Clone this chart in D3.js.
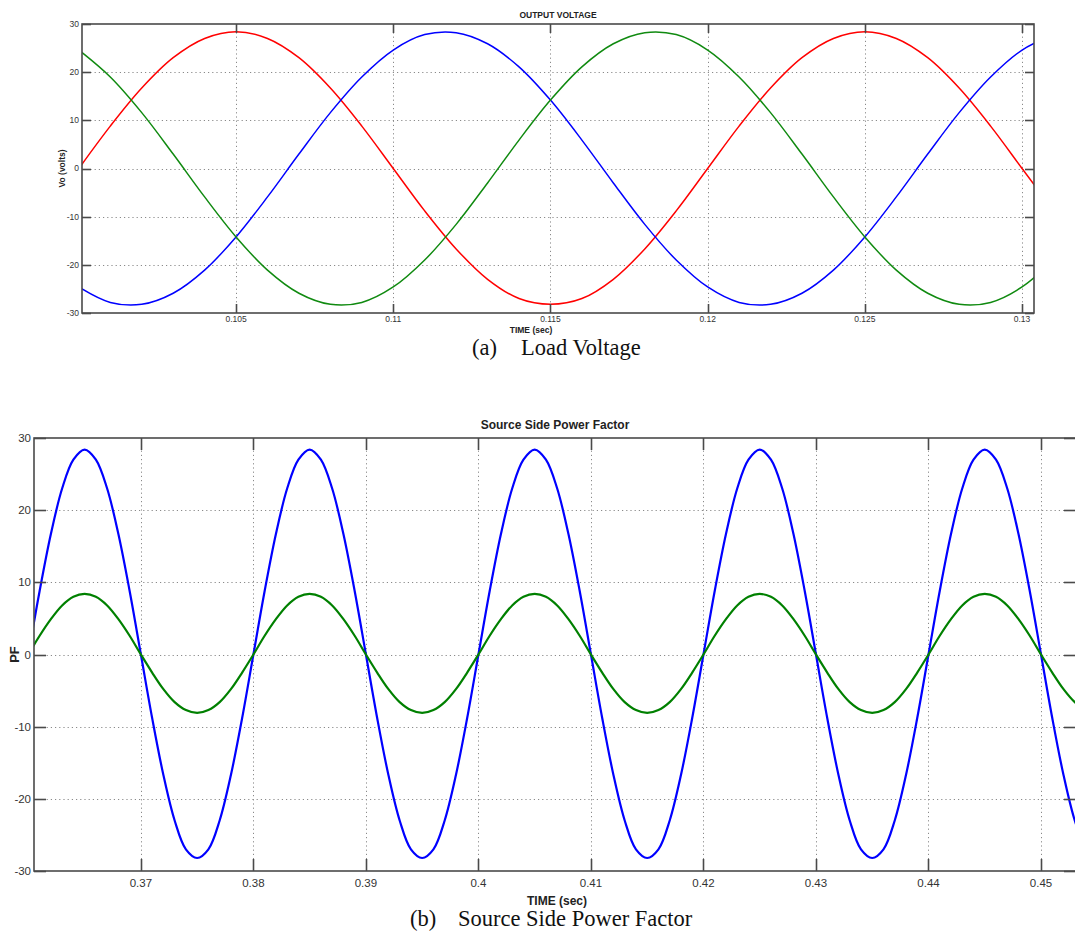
<!DOCTYPE html>
<html>
<head>
<meta charset="utf-8">
<script src="https://cdn.jsdelivr.net/npm/d3@7"></script>
<style>
  html, body { margin: 0; padding: 0; background: #fff; }
  svg { display: block; }
</style>
</head>
<body>
<svg id="chart" width="1075" height="948"></svg>
<script>
// ---------- DATA ----------
const timeA = [0.100,0.101,0.102,0.103,0.104,0.105,0.106,0.107,0.108,0.109,
               0.110,0.111,0.112,0.113,0.114,0.115,0.116,0.117,0.118,0.119,
               0.120,0.121,0.122,0.123,0.124,0.125,0.126,0.127,0.128,0.129,
               0.130,0.131];
const redA = [0, 8.8, 16.7, 23.0, 27.0, 28.4, 27.0, 23.0, 16.7, 8.8,
              0, -8.8, -16.7, -23.0, -27.0, -28.2, -27.0, -23.0, -16.7, -8.8,
              0, 8.8, 16.7, 23.0, 27.0, 28.4, 27.0, 23.0, 16.7, 8.8, 0, -8.8];
const blueA = [-24.6, -27.8, -28.2, -25.9, -21.1, -14.2, -5.9, 3.0, 11.6, 19.0,
               24.6, 27.8, 28.2, 25.9, 21.1, 14.2, 5.9, -3.0, -11.6, -19.0,
               -24.6, -27.8, -28.2, -25.9, -21.1, -14.2, -5.9, 3.0, 11.6, 19.0, 24.6, 27.8];
const greenA = [24.6, 19.0, 11.6, 3.0, -5.9, -14.2, -21.1, -25.9, -28.2, -27.8,
                -24.6, -19.0, -11.6, -3.0, 5.9, 14.2, 21.1, 25.9, 28.2, 27.8,
                24.6, 19.0, 11.6, 3.0, -5.9, -14.2, -21.1, -25.9, -28.2, -27.8, -24.6, -19.0];
const xTicksA = [0.105, 0.11, 0.115, 0.12, 0.125, 0.13];
const xTickLabelsA = ["0.105", "0.11", "0.115", "0.12", "0.125", "0.13"];
const yTicks = [-30, -20, -10, 0, 10, 20, 30];

const timeB = [0.360,0.361,0.362,0.363,0.364,0.365,0.366,0.367,0.368,0.369,
               0.370,0.371,0.372,0.373,0.374,0.375,0.376,0.377,0.378,0.379,
               0.380,0.381,0.382,0.383,0.384,0.385,0.386,0.387,0.388,0.389,
               0.390,0.391,0.392,0.393,0.394,0.395,0.396,0.397,0.398,0.399,
               0.400,0.401,0.402,0.403,0.404,0.405,0.406,0.407,0.408,0.409,
               0.410,0.411,0.412,0.413,0.414,0.415,0.416,0.417,0.418,0.419,
               0.420,0.421,0.422,0.423,0.424,0.425,0.426,0.427,0.428,0.429,
               0.430,0.431,0.432,0.433,0.434,0.435,0.436,0.437,0.438,0.439,
               0.440,0.441,0.442,0.443,0.444,0.445,0.446,0.447,0.448,0.449,
               0.450,0.451,0.452,0.453,0.454];
const blueB = [0, 8.8, 16.7, 23.0, 27.0, 28.4, 27.0, 23.0, 16.7, 8.8,
               0, -8.8, -16.7, -23.0, -27.0, -28.2, -27.0, -23.0, -16.7, -8.8,
               0, 8.8, 16.7, 23.0, 27.0, 28.4, 27.0, 23.0, 16.7, 8.8,
               0, -8.8, -16.7, -23.0, -27.0, -28.2, -27.0, -23.0, -16.7, -8.8,
               0, 8.8, 16.7, 23.0, 27.0, 28.4, 27.0, 23.0, 16.7, 8.8,
               0, -8.8, -16.7, -23.0, -27.0, -28.2, -27.0, -23.0, -16.7, -8.8,
               0, 8.8, 16.7, 23.0, 27.0, 28.4, 27.0, 23.0, 16.7, 8.8,
               0, -8.8, -16.7, -23.0, -27.0, -28.2, -27.0, -23.0, -16.7, -8.8,
               0, 8.8, 16.7, 23.0, 27.0, 28.4, 27.0, 23.0, 16.7, 8.8,
               0, -8.8, -16.7, -23.0, -27.0];
const greenB = [0, 2.6, 4.9, 6.8, 8.0, 8.4, 8.0, 6.8, 4.9, 2.6,
                0, -2.5, -4.8, -6.6, -7.7, -8.1, -7.7, -6.6, -4.8, -2.5,
                0, 2.6, 4.9, 6.8, 8.0, 8.4, 8.0, 6.8, 4.9, 2.6,
                0, -2.5, -4.8, -6.6, -7.7, -8.1, -7.7, -6.6, -4.8, -2.5,
                0, 2.6, 4.9, 6.8, 8.0, 8.4, 8.0, 6.8, 4.9, 2.6,
                0, -2.5, -4.8, -6.6, -7.7, -8.1, -7.7, -6.6, -4.8, -2.5,
                0, 2.6, 4.9, 6.8, 8.0, 8.4, 8.0, 6.8, 4.9, 2.6,
                0, -2.5, -4.8, -6.6, -7.7, -8.1, -7.7, -6.6, -4.8, -2.5,
                0, 2.6, 4.9, 6.8, 8.0, 8.4, 8.0, 6.8, 4.9, 2.6,
                0, -2.5, -4.8, -6.6, -7.7];
const xTicksB = [0.37, 0.38, 0.39, 0.40, 0.41, 0.42, 0.43, 0.44, 0.45];
const xTickLabelsB = ["0.37", "0.38", "0.39", "0.4", "0.41", "0.42", "0.43", "0.44", "0.45"];

// ---------- DRAW ----------
const svg = d3.select("#chart");

function panel(cfg) {
  const g = svg.append("g");
  const x = d3.scaleLinear().domain(cfg.xDomain).range([cfg.left, cfg.right]);
  const y = d3.scaleLinear().domain([-30, 30]).range([cfg.bottom, cfg.top]);

  const clipId = "clip" + cfg.id;
  svg.append("clipPath").attr("id", clipId)
    .append("rect").attr("x", cfg.left).attr("y", cfg.top)
    .attr("width", cfg.right - cfg.left).attr("height", cfg.bottom - cfg.top);

  // grid
  const grid = g.append("g").attr("stroke", "#8a8a8a").attr("stroke-width", 1)
    .attr("stroke-dasharray", "1.2,3");
  grid.selectAll(".vg").data(cfg.xTicks).enter().append("line")
    .attr("x1", d => Math.round(x(d)) + 0.5).attr("x2", d => Math.round(x(d)) + 0.5)
    .attr("y1", cfg.top).attr("y2", cfg.bottom);
  grid.selectAll(".hg").data(yTicks.filter(v => v > -30 && v < 30)).enter().append("line")
    .attr("y1", d => Math.round(y(d)) + 0.5).attr("y2", d => Math.round(y(d)) + 0.5)
    .attr("x1", cfg.left).attr("x2", cfg.right);

  // series
  const series = g.append("g").attr("clip-path", `url(#${clipId})`);
  cfg.series.forEach(s => {
    const line = d3.line().x((d, i) => x(s.t[i])).y(d => y(d)).curve(d3.curveCatmullRom.alpha(0.5));
    series.append("path").datum(s.v).attr("d", line)
      .attr("fill", "none").attr("stroke", s.color).attr("stroke-width", cfg.lw)
      .attr("stroke-linejoin", "round");
  });

  // frame
  const axCol = "#4a4a4a";
  g.append("rect").attr("x", cfg.left).attr("y", cfg.top)
    .attr("width", cfg.right - cfg.left).attr("height", cfg.bottom - cfg.top)
    .attr("fill", "none").attr("stroke", axCol).attr("stroke-width", 1.6);

  // ticks (inward, all sides)
  const tk = g.append("g").attr("stroke", axCol).attr("stroke-width", 1.6);
  cfg.xTicks.forEach(v => {
    const xx = Math.round(x(v)) + 0.5;
    tk.append("line").attr("x1", xx).attr("x2", xx).attr("y1", cfg.bottom).attr("y2", cfg.bottom - cfg.tl);
    tk.append("line").attr("x1", xx).attr("x2", xx).attr("y1", cfg.top).attr("y2", cfg.top + cfg.tl);
  });
  yTicks.forEach(v => {
    const yy = Math.round(y(v)) + 0.5;
    tk.append("line").attr("y1", yy).attr("y2", yy).attr("x1", cfg.left).attr("x2", cfg.left + cfg.tl);
    tk.append("line").attr("y1", yy).attr("y2", yy).attr("x1", cfg.right).attr("x2", cfg.right - cfg.tl);
  });

  // tick labels
  const lab = g.append("g").attr("font-family", cfg.font).attr("font-size", cfg.fs).attr("fill", "#333");
  lab.selectAll(".xl").data(cfg.xTicks).enter().append("text")
    .attr("x", d => x(d)).attr("y", cfg.bottom + cfg.xlOff)
    .attr("text-anchor", "middle").text((d, i) => cfg.xLabels[i]);
  lab.selectAll(".yl").data(yTicks).enter().append("text")
    .attr("x", cfg.left - 3).attr("y", d => y(d) + cfg.fs * 0.35)
    .attr("text-anchor", "end").text(d => d);

  // titles
  g.append("text").attr("x", (cfg.left + cfg.right) / 2).attr("y", cfg.titleY)
    .attr("text-anchor", "middle").attr("font-family", cfg.font).attr("font-weight", "bold")
    .attr("font-size", cfg.titleFs).attr("fill", "#222").text(cfg.title);
  g.append("text").attr("x", cfg.xTitleX).attr("y", cfg.xTitleY)
    .attr("text-anchor", "middle").attr("font-family", cfg.font).attr("font-weight", "bold")
    .attr("font-size", cfg.axFs).attr("fill", "#222").text("TIME (sec)");
  g.append("text").attr("transform", `translate(${cfg.yTitleX},${(cfg.top + cfg.bottom) / 2}) rotate(-90)`)
    .attr("text-anchor", "middle").attr("font-family", cfg.font).attr("font-weight", "bold")
    .attr("font-size", cfg.yTitleFs).attr("fill", "#222").text(cfg.yTitle);
}

panel({
  id: "A", left: 82, right: 1034, top: 24, bottom: 313,
  xDomain: [0.1001, 0.13038], xTicks: xTicksA, xLabels: xTickLabelsA,
  series: [
    { t: timeA, v: redA, color: "#ff0000" },
    { t: timeA, v: blueA, color: "#0000ff" },
    { t: timeA, v: greenA, color: "#108a10" }
  ],
  lw: 1.5, tl: 9, font: "'Liberation Sans', Arial, sans-serif", fs: 8.5, xlOff: 9,
  title: "OUTPUT VOLTAGE", titleY: 18, titleFs: 8.5,
  xTitleX: 531, xTitleY: 332.5, axFs: 8.5,
  yTitle: "Vo (volts)", yTitleX: 65, yTitleFs: 8.5
});

panel({
  id: "B", left: 34, right: 1076, top: 438, bottom: 871,
  xDomain: [0.3605, 0.45311], xTicks: xTicksB, xLabels: xTickLabelsB,
  series: [
    { t: timeB, v: blueB, color: "#0000ff" },
    { t: timeB, v: greenB, color: "#008000" }
  ],
  lw: 2.2, tl: 12, font: "'Liberation Sans Narrow', 'Arial Narrow', 'Liberation Sans', sans-serif", fs: 11.5, xlOff: 16,
  title: "Source Side Power Factor", titleY: 429, titleFs: 12,
  xTitleX: 557, xTitleY: 905, axFs: 12,
  yTitle: "PF", yTitleX: 19, yTitleFs: 13
});

// captions
const cap = svg.append("g").attr("font-family", "'Liberation Serif', 'Times New Roman', serif")
  .attr("font-size", 22.5).attr("fill", "#111");
cap.append("text").attr("x", 472).attr("y", 355).text("(a)");
cap.append("text").attr("x", 521).attr("y", 355).text("Load Voltage");
cap.append("text").attr("x", 410).attr("y", 926).text("(b)");
cap.append("text").attr("x", 458).attr("y", 926).text("Source Side Power Factor");
</script>
</body>
</html>
